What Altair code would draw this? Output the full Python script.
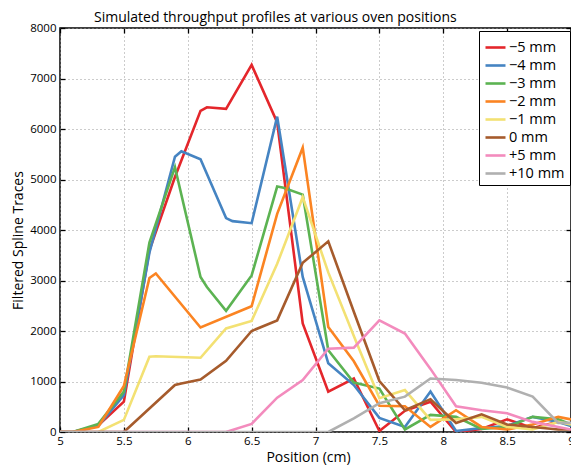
import altair as alt
import pandas as pd

SERIES = ["\u22125 mm", "\u22124 mm", "\u22123 mm", "\u22122 mm", "\u22121 mm", "\u20070 mm", "+5 mm", "+10 mm"]
COLORS = ["#e4262b", "#4584c2", "#5cb352", "#fb8422", "#f3e173", "#a65b2c", "#f38bbd", "#b0b0b0"]

X_M5 = [5.0, 5.1, 5.3, 5.5, 5.7, 5.9, 6.1, 6.15, 6.3, 6.5, 6.7, 6.9, 7.1, 7.3, 7.5, 7.7, 7.9, 8.1, 8.3, 8.5, 8.7, 8.9, 9.0]
Y_M5 = [0, 0, 130, 600, 3600, 5050, 6360, 6430, 6400, 7270, 6130, 2150, 800, 1060, 20, 420, 600, 0, 60, 250, 80, 200, 150]

X_M4 = [5.0, 5.1, 5.3, 5.5, 5.7, 5.9, 5.95, 6.1, 6.3, 6.35, 6.5, 6.7, 6.9, 7.1, 7.3, 7.5, 7.7, 7.9, 8.1, 8.3, 8.5, 8.7, 8.9, 9.0]
Y_M4 = [0, 0, 120, 730, 3550, 5450, 5560, 5400, 4235, 4175, 4135, 6245, 3070, 1360, 930, 280, 100, 800, 20, 80, 120, 300, 200, 120]

X_M3 = [5.0, 5.1, 5.3, 5.5, 5.7, 5.9, 6.1, 6.15, 6.3, 6.5, 6.7, 6.75, 6.9, 7.1, 7.3, 7.5, 7.7, 7.9, 8.1, 8.3, 8.5, 8.7, 8.9, 9.0]
Y_M3 = [0, 0, 160, 800, 3750, 5245, 3070, 2870, 2400, 3100, 4860, 4835, 4700, 1620, 980, 860, 50, 340, 300, 60, 100, 300, 250, 150]

X_M2 = [5.0, 5.1, 5.3, 5.5, 5.7, 5.75, 6.1, 6.5, 6.7, 6.9, 7.1, 7.3, 7.5, 7.7, 7.9, 8.1, 8.3, 8.5, 8.7, 8.9, 9.0]
Y_M2 = [0, 0, 100, 910, 3050, 3140, 2070, 2490, 4320, 5630, 2080, 1400, 520, 510, 100, 430, 100, 50, 150, 300, 250]

X_M1 = [5.0, 5.3, 5.5, 5.7, 5.75, 6.1, 6.3, 6.5, 6.7, 6.9, 7.1, 7.3, 7.5, 7.7, 7.9, 8.1, 8.3, 8.5, 8.7, 8.9, 9.0]
Y_M1 = [0, 0, 240, 1490, 1500, 1470, 2050, 2200, 3330, 4650, 3160, 1900, 670, 830, 240, 250, 300, 100, 50, 200, 150]

X_0 = [5.0, 5.5, 5.9, 5.95, 6.1, 6.3, 6.5, 6.7, 6.9, 7.1, 7.3, 7.5, 7.7, 7.9, 8.1, 8.3, 8.5, 8.7, 8.9, 9.0]
Y_0 = [0, 0, 930, 960, 1040, 1410, 2000, 2210, 3350, 3775, 2380, 1010, 430, 650, 180, 350, 150, 100, 50, 50]

X_P5 = [5.0, 6.3, 6.5, 6.7, 6.9, 7.1, 7.3, 7.5, 7.7, 7.9, 8.1, 8.3, 8.5, 8.7, 8.9, 9.0]
Y_P5 = [0, 0, 160, 680, 1030, 1650, 1670, 2210, 1950, 1250, 510, 430, 370, 200, 100, 50]

X_P10 = [5.0, 7.1, 7.3, 7.5, 7.7, 7.9, 8.1, 8.3, 8.5, 8.7, 8.9, 9.0]
Y_P10 = [0, 0, 270, 570, 700, 1060, 1030, 975, 880, 700, 180, 180]

X_TICKS = [5, 5.5, 6, 6.5, 7, 7.5, 8, 8.5, 9]
Y_TICKS = [0, 1000, 2000, 3000, 4000, 5000, 6000, 7000, 8000]

ALL = [(X_M5, Y_M5), (X_M4, Y_M4), (X_M3, Y_M3), (X_M2, Y_M2),
       (X_M1, Y_M1), (X_0, Y_0), (X_P5, Y_P5), (X_P10, Y_P10)]
rows = []
for k, (name, (xs, ys)) in enumerate(zip(SERIES, ALL)):
    for x, y in zip(xs, ys):
        rows.append({"pos": x, "value": y, "series": name, "k": k})
df = pd.DataFrame(rows)

FONT = "Open Sans"
xscale = alt.Scale(domain=[5, 9], nice=False, zero=False)
yscale = alt.Scale(domain=[0, 8000], nice=False)

lines = alt.Chart(df).mark_line(strokeWidth=2.6, clip=True).encode(
    x=alt.X("pos:Q", scale=xscale, axis=alt.Axis(
        values=X_TICKS, format="~g", domain=False, offset=-5, tickSize=5,
        tickColor="black", tickWidth=1.3, labelFontSize=11.5, labelColor="black",
        labelPadding=3, labelFlush=False, labelOverlap=False,
        grid=True, gridDash=[1, 3], gridColor="#999999", gridWidth=1,
        title="Position (cm)", titleFontSize=14, titleFontWeight="normal",
        titleColor="black", titleX=248, titleY=34, titleBaseline="alphabetic")),
    y=alt.Y("value:Q", scale=yscale, axis=alt.Axis(
        values=Y_TICKS, format="d", domain=False, offset=-5, tickSize=5,
        tickColor="black", tickWidth=1.3, labelFontSize=11.5, labelColor="black",
        labelPadding=4, labelOverlap=False, labelFlush=False,
        grid=True, gridDash=[1, 3], gridColor="#999999", gridWidth=1,
        title="Filtered Spline Traces", titleFontSize=14, titleFontWeight="normal",
        titleColor="black", titleX=-47, titleY=212, titleBaseline="middle", titleAngle=-90)),
    color=alt.Color("series:N", scale=alt.Scale(domain=SERIES, range=COLORS), sort=SERIES,
                    legend=alt.Legend(title=None, orient="none", legendX=419, legendY=3,
                                      symbolType="stroke", symbolSize=400, symbolStrokeWidth=2.6,
                                      labelFontSize=14.5, labelColor="black", labelOffset=2,
                                      fillColor="white", strokeColor="black", padding=5,
                                      rowPadding=0)),
    detail="k:N",
    order="pos:Q",
)

mirror = alt.Chart(df).mark_point(opacity=0).encode(
    x=alt.X("pos:Q", scale=xscale, axis=alt.Axis(
        orient="top", values=X_TICKS, labels=False, domain=False, grid=False, offset=-5,
        tickSize=5, tickColor="black", tickWidth=1.3, title=None)),
    y=alt.Y("value:Q", scale=yscale, axis=alt.Axis(
        orient="right", values=Y_TICKS, labels=False, domain=False, grid=False, offset=-5,
        tickSize=5, tickColor="black", tickWidth=1.3, title=None)),
)

chart = alt.layer(lines, mirror).resolve_axis(x="independent", y="independent").properties(
    width=511, height=404,
    autosize=alt.AutoSizeParams(type="none"),
    padding={"left": 60, "top": 28, "right": 0, "bottom": 34},
    title=alt.TitleParams("Simulated throughput profiles at various oven positions",
                          anchor="start", frame="group", dx=34, dy=13, offset=10,
                          fontSize=14, fontWeight="normal", color="black"),
).configure(font=FONT).configure_view(stroke="black", strokeWidth=1.5)

chart.save("out.html", embed_options={"renderer": "svg", "actions": False})
